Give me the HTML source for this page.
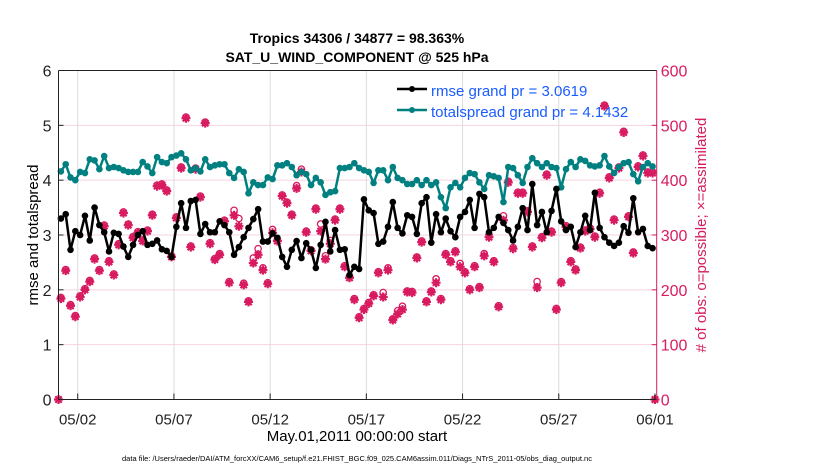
<!DOCTYPE html>
<html><head><meta charset="utf-8"><style>
html,body{margin:0;padding:0;background:#fff;}
svg{display:block;font-family:"Liberation Sans",sans-serif;}
</style></head><body>
<svg id="chart" width="830" height="470" viewBox="0 0 830 470" xmlns="http://www.w3.org/2000/svg">
<text x="357" y="43" font-size="14" font-weight="bold" text-anchor="middle">Tropics 34306 / 34877 = 98.363%</text>
<text x="357" y="62" font-size="14" font-weight="bold" text-anchor="middle">SAT_U_WIND_COMPONENT @ 525 hPa</text>
<g id="grid"></g>
<g id="series"></g>
<g id="axes"></g>
<text transform="translate(38,235) rotate(-90)" font-size="15" text-anchor="middle">rmse and totalspread</text>
<text transform="translate(706,235) rotate(-90)" font-size="15" fill="#d81b60" text-anchor="middle"># of obs: o=possible; ×=assimilated</text>
<text x="357" y="441" font-size="15" text-anchor="middle">May.01,2011 00:00:00 start</text>
<text x="357" y="461" font-size="7.5" text-anchor="middle">data file: /Users/raeder/DAI/ATM_forcXX/CAM6_setup/f.e21.FHIST_BGC.f09_025.CAM6assim.011/Diags_NTrS_2011-05/obs_diag_output.nc</text>
<g>
<line x1="397" y1="89" x2="427" y2="89" stroke="#000" stroke-width="2.5"/><circle cx="412" cy="89" r="3" fill="#000"/>
<text x="431" y="96" font-size="15" fill="#1a5cff">rmse grand pr = 3.0619</text>
<line x1="397" y1="110" x2="427" y2="110" stroke="#008080" stroke-width="2.5"/><circle cx="412" cy="110" r="3" fill="#008080"/>
<text x="431" y="117" font-size="15" fill="#1a5cff">totalspread grand pr = 4.1432</text>
</g>
</svg>
<script>
const xTickLabels = ["05/02","05/07","05/12","05/17","05/22","05/27","06/01"];
const xTickDays = [2,7,12,17,22,27,32];
const yTicksLeft = [0,1,2,3,4,5,6];
const yTicksRight = [0,100,200,300,400,500,600];
const tStart = 1.125, tStep = 0.25;
const rmse = [3.3,3.38,2.73,3.07,3.0,3.35,2.9,3.5,3.18,3.05,2.7,3.04,3.02,2.79,2.6,2.82,3.0,3.07,2.82,2.84,2.9,2.74,2.71,2.6,3.15,3.58,3.13,3.62,3.64,3.02,3.2,3.05,
3.05,3.25,3.18,3.05,2.64,2.78,2.96,3.13,3.29,3.47,2.88,2.88,3.03,2.95,2.6,2.42,2.73,2.89,2.58,2.85,2.73,2.4,2.82,3.24,2.7,3.09,2.73,2.74,2.27,2.42,2.38,3.65,
3.45,3.4,2.84,2.88,3.15,3.6,3.13,3.03,3.36,3.33,3.02,3.58,3.69,2.86,3.38,3.05,3.3,3.07,2.96,3.33,3.42,3.64,3.13,3.75,3.69,3.05,3.13,3.33,3.22,3.09,2.9,
3.15,3.49,3.09,3.93,3.18,3.42,3.05,3.44,3.84,3.25,3.09,3.15,2.78,3.05,3.35,3.09,3.77,3.13,2.96,2.86,2.8,2.86,3.16,3.04,3.67,3.05,3.11,2.8,2.76];
const totalspread = [4.16,4.29,4.05,4.0,4.15,4.13,4.38,4.36,4.2,4.44,4.22,4.24,4.22,4.18,4.15,4.15,4.15,4.33,4.25,4.13,4.42,4.33,4.31,4.42,4.45,4.49,4.38,4.18,4.22,4.16,4.38,4.24,
4.27,4.29,4.29,4.13,4.04,4.2,4.15,3.76,3.96,3.91,3.91,4.05,4.02,4.27,4.27,4.31,4.24,4.09,4.15,4.11,3.91,4.04,3.96,3.73,3.78,3.8,4.22,4.22,4.24,4.31,4.22,4.18,
4.15,3.95,4.18,4.18,4.0,4.24,4.04,4.0,3.93,3.93,4.0,3.91,4.0,3.91,3.96,3.69,3.49,3.87,3.95,3.87,4.04,4.13,4.11,3.96,3.84,4.09,4.07,4.04,3.6,4.24,4.22,
4.09,3.95,4.24,4.4,4.31,4.24,4.31,4.24,4.22,3.87,4.2,4.33,4.24,4.38,4.35,4.27,4.25,4.27,4.44,4.25,4.13,4.24,4.31,4.33,4.11,3.98,4.24,4.31,4.25];
const obsAssimilated = [184,235,171,151,187,200,215,256,235,316,251,227,282,340,318,295,304,289,307,336,389,391,380,260,331,422,513,278,420,369,504,284,
255,264,325,213,336,316,209,178,249,264,236,211,304,289,371,358,336,385,415,305,271,347,307,256,284,327,347,242,222,182,149,
164,175,189,231,187,236,145,156,164,196,195,258,287,178,196,213,182,264,251,269,242,231,200,242,204,262,296,251,169,327,396,
275,376,376,342,278,204,295,409,305,164,213,315,251,236,276,307,311,296,376,535,404,327,422,487,333,267,424,444,413,413];
const obsPossible = [186,237,173,153,189,202,217,258,237,318,253,229,284,342,320,297,306,291,309,338,391,393,382,262,333,424,515,280,422,371,506,286,
257,266,327,215,345,330,212,180,258,275,240,213,310,291,373,360,338,390,420,307,273,349,320,262,290,329,349,244,224,184,151,
166,177,191,233,195,240,147,162,170,198,197,260,289,180,198,220,184,266,253,271,248,233,202,244,206,266,300,253,171,335,398,
277,378,378,344,280,215,297,411,307,166,215,317,253,238,278,309,313,298,378,537,406,329,424,489,335,269,426,446,415,415];
const obsEdgeDays = [1,32];
const obsEdgeValues = [0,0];

const NS="http://www.w3.org/2000/svg";
const L=58.5,R=656.7,T=70.5,B=399.5,D0=1,D1=32.09;
const xS=d=>L+(d-D0)/(D1-D0)*(R-L);
const yL=v=>B-v/6*(B-T);
const yR=v=>B-v/600*(B-T);
const MAG="#d81b60";
function mk(tag,attrs,parent){const e=document.createElementNS(NS,tag);for(const k in attrs)e.setAttribute(k,attrs[k]);parent.appendChild(e);return e;}
const grid=document.getElementById('grid'),axes=document.getElementById('axes'),ser=document.getElementById('series');

yTicksLeft.forEach((v,i)=>{
  if(v>0&&v<6){const g=mk('line',{x1:L,x2:R,y1:yL(v),y2:yL(v),stroke:"#f6d3e0","stroke-width":1},grid);
  
  }
  const t=mk('line',{x1:L,x2:L+5,y1:yL(v),y2:yL(v),stroke:"#222"},axes);
  
  
  const lb=mk('text',{x:L-7,y:yL(v)+6,"font-size":16,"text-anchor":"end",fill:"#222"},axes);lb.textContent=v;
  
  
});
yTicksRight.forEach(v=>{
  const t=mk('line',{x1:R-5,x2:R,y1:yR(v),y2:yR(v),stroke:MAG},axes);
  
  
  const lb=mk('text',{x:R+4,y:yR(v)+6,"font-size":16,fill:MAG},axes);lb.textContent=v;
  
  
});
xTickDays.forEach((d,i)=>{
  const x=xS(d);
  if(i<xTickDays.length-1){const g=mk('line',{x1:x,x2:x,y1:T,y2:B,stroke:"#dcdcdc"},grid);
  
  }
  const t=mk('line',{x1:x,x2:x,y1:B-6,y2:B,stroke:"#222"},axes);
  
  
  const lb=mk('text',{x:x,y:B+25,"font-size":15,"text-anchor":"middle",fill:"#222"},axes);lb.textContent=xTickLabels[i];
  
  
});
let a;
a=mk('line',{x1:L,x2:R,y1:T,y2:T,stroke:"#222"},axes);


a=mk('line',{x1:L,x2:R,y1:B,y2:B,stroke:"#222"},axes);


a=mk('line',{x1:L,x2:L,y1:T,y2:B,stroke:"#222"},axes);


a=mk('line',{x1:R,x2:R,y1:T,y2:B,stroke:MAG},axes);



function star(x,y,parent,name){
  const g=mk('g',{},parent);
  
  
  mk('path',{d:`M${x-4.5},${y}L${x+4.5},${y}M${x},${y-4.5}L${x},${y+4.5}M${x-3.2},${y-3.2}L${x+3.2},${y+3.2}M${x-3.2},${y+3.2}L${x+3.2},${y-3.2}`,stroke:MAG,"stroke-width":2.2},g);
  mk('circle',{cx:x,cy:y,r:2.6,fill:MAG},g);
}
obsPossible.forEach((v,i)=>{
  const c=mk('circle',{cx:xS(tStart+i*tStep),cy:yR(v),r:3.2,fill:"none",stroke:MAG,"stroke-width":1.3},ser);
  
  
});
obsAssimilated.forEach((v,i)=>star(xS(tStart+i*tStep),yR(v),ser,'obs-assimilated-point'));
obsEdgeDays.forEach((d,i)=>star(xS(d),yR(obsEdgeValues[i]),ser,'obs-edge-point'));

function line(vals,color,name){
  const pts=vals.map((v,i)=>xS(tStart+i*tStep).toFixed(1)+","+yL(v).toFixed(1)).join(" ");
  const p=mk('polyline',{points:pts,fill:"none",stroke:color,"stroke-width":2.5,"stroke-linejoin":"round"},ser);
  
  
  vals.forEach((v,i)=>{
    const c=mk('circle',{cx:xS(tStart+i*tStep),cy:yL(v),r:3.3,fill:color},ser);
    
    
  });
}
line(totalspread,"#008080","totalspread");
line(rmse,"#000","rmse");
</script>
</body></html>
